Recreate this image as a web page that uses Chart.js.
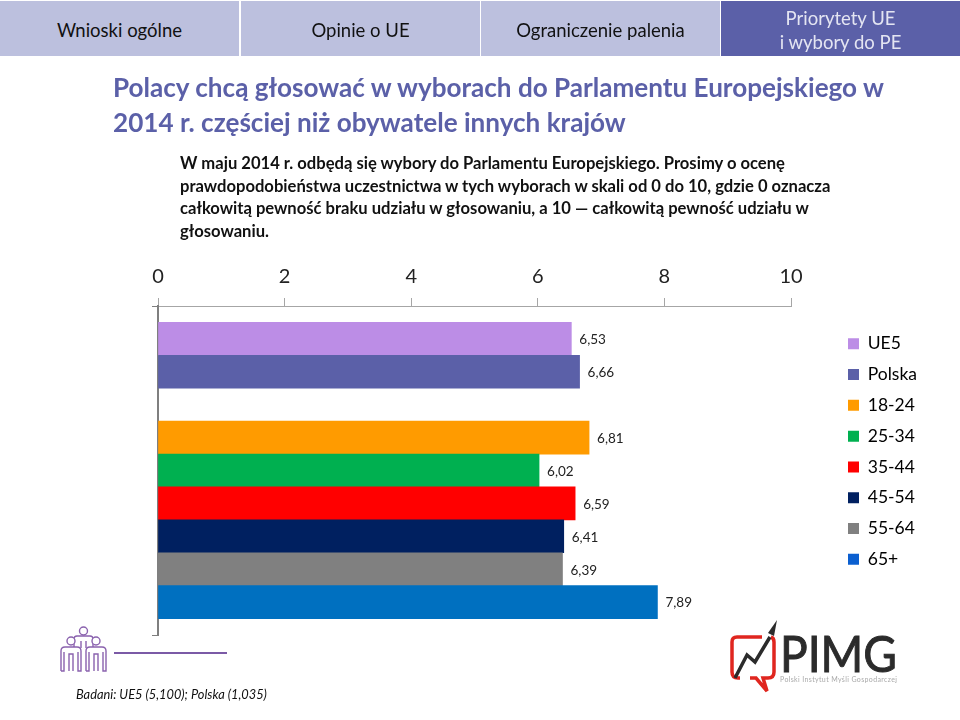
<!DOCTYPE html>
<html lang="pl">
<head>
<meta charset="utf-8">
<title>Polacy chcą głosować</title>
<script src="https://cdn.jsdelivr.net/npm/chart.js@4"></script>
<style>
html,body{margin:0;padding:0;background:#fff;width:960px;height:720px;overflow:hidden;font-family:Lato,"Open Sans",sans-serif}
#c{position:absolute;left:0;top:0;width:960px;height:720px}
.tab{position:absolute;top:1px;height:53px;padding-top:2px;width:239px;background:#BCC0DE;color:#111;display:flex;align-items:center;justify-content:center;text-align:center;font-size:18.5px;line-height:24px}
.tab.on{background:#5B60A8;color:#E4E5F2}
#title{position:absolute;left:113px;top:70px;width:840px;color:#5B60A8;font-weight:700;font-size:26.1px;line-height:35px;white-space:pre}
#q{position:absolute;left:180px;top:152px;color:#111;font-weight:700;font-size:16.6px;line-height:22.6px;white-space:pre}
#foot{position:absolute;left:76px;top:686px;font-style:italic;font-size:12.8px;color:#111}
svg{position:absolute}
#rule{position:absolute;left:114px;top:652px;width:113px;height:2px;background:#7B5AA6}
</style>
</head>
<body>
<canvas id="c" width="960" height="720"></canvas>
<div class="tab" style="left:0">Wnioski ogólne</div>
<div class="tab" style="left:241px">Opinie o UE</div>
<div class="tab" style="left:481px">Ograniczenie palenia</div>
<div class="tab on" style="left:721px">Priorytety UE<br>i wybory do PE</div>
<div id="title">Polacy chcą głosować w wyborach do Parlamentu Europejskiego w
2014 r. częściej niż obywatele innych krajów</div>
<div id="q">W maju 2014 r. odbędą się wybory do Parlamentu Europejskiego. Prosimy o ocenę
prawdopodobieństwa uczestnictwa w tych wyborach w skali od 0 do 10, gdzie 0 oznacza
całkowitą pewność braku udziału w głosowaniu, a 10 — całkowitą pewność udziału w
głosowaniu.</div>
<div id="rule"></div>
<div id="foot">Badani: UE5 (5,100); Polska (1,035)</div>
<svg style="left:58px;top:624px" width="50" height="50" viewBox="0 0 50 50" fill="#fff" stroke="#8A62AE" stroke-width="1.4">
  <circle cx="25.5" cy="7" r="4"/>
  <path d="M16 28V15q0-3 3-3h13q3 0 3 3v13"/>
  <path d="M23 24v-7M28 24v-7"/>
  <circle cx="13" cy="17" r="4"/><circle cx="38" cy="17" r="4"/>
  <path d="M3 47V27q0-4 4-4h12q4 0 4 4v20h-3V28M3 47h3V28M15 47V30h-4v17"/>
  <path d="M28 47V27q0-4 4-4h12q4 0 4 4v20h-3V28M28 47h3V28M40 47V30h-4v17"/>
</svg>
<svg style="left:700px;top:600px" width="260" height="110" viewBox="0 0 260 110">
  <path d="M62 37H37q-5 0-5 5V72q0 6 6 6h2M50 78H56l11 13-4-13h5q6 0 6-6V42q0-4-3-5" fill="none" stroke="#E0261F" stroke-width="3.5"/>
  <path d="M35 78L47 55l8 7 15-25" fill="none" stroke="#2B2B2B" stroke-width="3.5"/>
  <path d="M77 20l-9 13 6 3z" fill="#2B2B2B"/>
  <text x="80" y="72" font-family="Lato" font-size="50" font-weight="400" fill="#2B2B2B" stroke="#2B2B2B" stroke-width="1" textLength="117" lengthAdjust="spacingAndGlyphs">PIMG</text>
  <text x="80" y="82" font-family="Lato" font-size="7" fill="#aaa" textLength="117">Polski Instytut Myśli Gospodarczej</text>
</svg>
<script>
const categories = ['', 'UE5', 'Polska', '', '18-24', '25-34', '35-44', '45-54', '55-64', '65+', ''];
const values = [null, 6.53, 6.66, null, 6.81, 6.02, 6.59, 6.41, 6.39, 7.89, null];
const barColors = [null, '#BC8DE6', '#5B60A8', null, '#FF9B00', '#00B050', '#FF0000', '#002060', '#808080', '#0070C0', null];
const legendNames = ['UE5', 'Polska', '18-24', '25-34', '35-44', '45-54', '55-64', '65+'];
const legendColors = ['#BC8DE6', '#5B60A8', '#FF9B00', '#00B050', '#FF0000', '#002060', '#808080', '#0B5FD0'];
const xTicks = [0, 2, 4, 6, 8, 10];

const valueLabels = {
  id: 'valueLabels',
  afterDatasetsDraw(chart) {
    const { ctx } = chart;
    const meta = chart.getDatasetMeta(0);
    ctx.save();
    ctx.font = '13.5px Lato';
    ctx.fillStyle = '#222';
    ctx.textBaseline = 'middle';
    values.forEach((v, i) => {
      if (v === null) return;
      const el = meta.data[i];
      ctx.fillText(v.toFixed(2).replace('.', ','), el.x + 8, el.y + 1);
    });
    ctx.restore();
  }
};
const placeLegend = {
  id: 'placeLegend',
  afterLayout(chart) {
    const l = chart.legend;
    l.left = 834.7; l.right = 960; l.top = 321.7; l.bottom = 600;
  }
};

new Chart(document.getElementById('c'), {
  type: 'bar',
  plugins: [valueLabels, placeLegend],
  data: {
    labels: categories,
    datasets: [{ data: values, backgroundColor: barColors, borderWidth: 0, barPercentage: 1, categoryPercentage: 1 }]
  },
  options: {
    indexAxis: 'y',
    responsive: false,
    animation: false,
    devicePixelRatio: 1,
    layout: { padding: { left: 0, right: 169, top: 200, bottom: 85 } },
    plugins: {
      tooltip: { enabled: false },
      title: { display: false },
      legend: {
        display: true,
        position: 'chartArea',
        align: 'start',
        labels: {
          boxWidth: 11, boxHeight: 11, padding: 13.3,
          color: '#222',
          font: { family: 'Lato', size: 17.5 },
          generateLabels: () => legendNames.map((t, i) => ({
            text: t, fillStyle: legendColors[i], strokeStyle: legendColors[i], lineWidth: 0, hidden: false, index: i
          }))
        }
      }
    },
    scales: {
      x: {
        position: 'top', min: 0, max: 10,
        afterFit: s => { s.height = 106; },
        afterBuildTicks: s => { s.ticks = xTicks.map(v => ({ value: v })); },
        border: { color: '#A6A6A6', width: 1 },
        grid: { drawOnChartArea: false, drawTicks: true, tickLength: 8, color: '#A6A6A6' },
        ticks: { color: '#222', padding: 9, maxRotation: 0, font: { family: 'Lato', size: 20 } }
      },
      y: {
        offset: false,
        afterFit: s => { s.width = 158; },
        border: { color: '#7F7F7F', width: 2 },
        grid: {
          offset: false,
          drawOnChartArea: false, tickLength: 6,
          color: c => (c.index === 0 || c.index === categories.length - 1) ? '#7F7F7F' : 'rgba(0,0,0,0)'
        },
        ticks: { display: false, autoSkip: false }
      }
    }
  }
});
</script>
</body>
</html>
